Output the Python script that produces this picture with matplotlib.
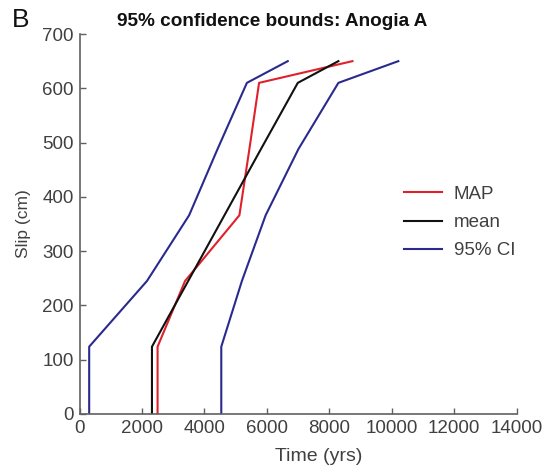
import matplotlib
matplotlib.use("Agg")
import matplotlib.pyplot as plt

plt.rcParams['font.family'] = ['Liberation Sans', 'DejaVu Sans']

# Slip levels (cm) shared by all curves
slip = [0, 124, 245, 366, 488, 610, 650]

# Time (yrs) for each curve at the slip levels above
map_time = [2500, 2500, 3380, 5120, 5440, 5750, 8740]
mean_time = [2320, 2320, 3480, 4640, 5810, 6990, 8290]
ci_low = [310, 310, 2160, 3510, 4420, 5360, 6670]
ci_high = [4540, 4540, 5200, 5960, 7010, 8290, 10210]

xticks = [0, 2000, 4000, 6000, 8000, 10000, 12000, 14000]
yticks = [0, 100, 200, 300, 400, 500, 600, 700]

red = '#e0202a'
navy = '#2a2a8e'
grey = '#606060'
txt = '#404040'

fig = plt.figure(figsize=(5.53, 4.71), dpi=100)
ax = fig.add_axes([79.5 / 553, 1 - 414 / 471, (516.7 - 79.5) / 553, (414 - 34) / 471])

ax.plot(map_time, slip, color=red, lw=1.5, label='MAP')
ax.plot(mean_time, slip, color='#111111', lw=1.5, label='mean')
ax.plot(ci_low, slip, color=navy, lw=1.5, label='95% CI')
ax.plot(ci_high, slip, color=navy, lw=1.5)

ax.set_xlim(0, 14000)
ax.set_ylim(0, 700)
ax.set_xticks(xticks)
ax.set_yticks(yticks)
ax.tick_params(direction='in', length=4, width=1, colors=grey, labelcolor=txt,
               labelsize=13.5, pad=4)
for s in ['top', 'right']:
    ax.spines[s].set_visible(False)
for s in ['left', 'bottom']:
    ax.spines[s].set_color(grey)
    ax.spines[s].set_linewidth(1.2)

ax.set_xlabel('Time (yrs)', fontsize=14, color=txt, labelpad=8)
ax.xaxis.label.set_x(0.548)
ax.set_ylabel('Slip (cm)', fontsize=12.5, color=txt, labelpad=8)

leg = ax.legend(loc='upper left', bbox_to_anchor=(0.703, 0.6455), frameon=False,
                fontsize=13.5, handlelength=2.05, handletextpad=0.62,
                labelspacing=0.6)
for t in leg.get_texts():
    t.set_color(txt)

fig.text(272 / 553, 1 - 21.5 / 471, '95% confidence bounds: Anogia A',
         ha='center', va='center', fontsize=13.7, fontweight='bold', color='#111111')
fig.text(12 / 553, 1 - 20 / 471, 'B', ha='left', va='center', fontsize=19,
         color='#111111')

fig.savefig('out.png', dpi=100)
